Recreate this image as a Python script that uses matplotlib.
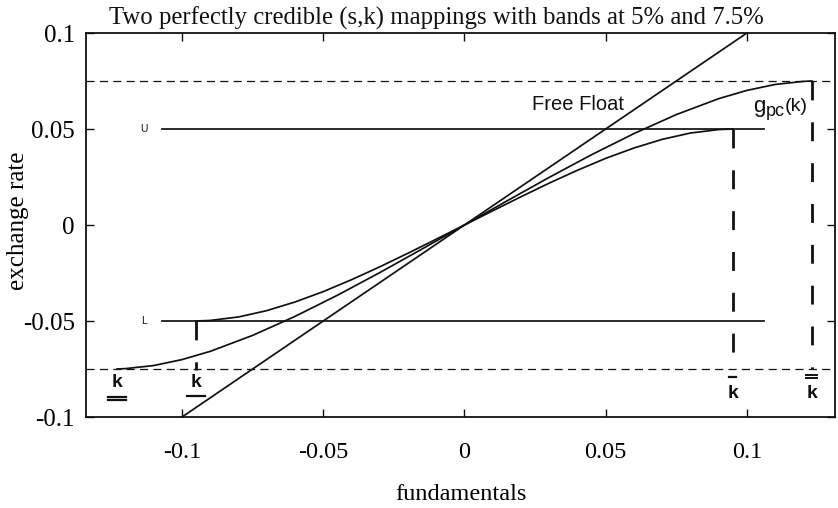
import matplotlib
matplotlib.use("Agg")
import matplotlib.pyplot as plt

# ---------------- data ----------------
k_free = [-0.1, 0.1]
s_free = [-0.1, 0.1]

band_inner = 0.05
band_outer = 0.075
kbar_inner = 0.095
kbar_outer = 0.123
band_line_x = [-0.107, 0.106]

k_band5 = [-0.095, -0.09, -0.08, -0.07, -0.06, -0.05, -0.04, -0.03, -0.02, -0.01, 0.0,
           0.01, 0.02, 0.03, 0.04, 0.05, 0.06, 0.07, 0.08, 0.09, 0.095]
s_band5 = [-0.05, -0.0497, -0.0479, -0.0446, -0.0401, -0.0347, -0.0285, -0.0218, -0.0147, -0.0074, 0.0,
           0.0074, 0.0147, 0.0218, 0.0285, 0.0347, 0.0401, 0.0446, 0.0479, 0.0497, 0.05]

k_band75 = [-0.123, -0.12, -0.11, -0.10, -0.09, -0.075, -0.06, -0.045, -0.03, -0.015, 0.0,
            0.015, 0.03, 0.045, 0.06, 0.075, 0.09, 0.10, 0.11, 0.12, 0.123]
s_band75 = [-0.075, -0.0748, -0.0732, -0.0701, -0.0658, -0.0575, -0.0476, -0.0366, -0.0248, -0.0125, 0.0,
            0.0125, 0.0248, 0.0366, 0.0476, 0.0575, 0.0658, 0.0701, 0.0732, 0.0748, 0.075]

xticks = [-0.1, -0.05, 0, 0.05, 0.1]
xticklabels = ["-0.1", "-0.05", "0", "0.05", "0.1"]
yticks = [-0.1, -0.05, 0, 0.05, 0.1]
yticklabels = ["-0.1", "-0.05", "0", "0.05", "0.1"]

title = "Two perfectly credible (s,k) mappings with bands at 5% and 7.5%"
xlabel = "fundamentals"
ylabel = "exchange rate"

# ---------------- styling ----------------
plt.rcParams["axes.unicode_minus"] = False
serif = "Liberation Serif"
sans = "Liberation Sans"
ink = "#111111"

fig = plt.figure(figsize=(8.38, 5.08), dpi=100)
ax = fig.add_axes([86 / 838, 1 - 417 / 508, 749 / 838, 384 / 508])
ax.set_xlim(-0.134, 0.1312)
ax.set_ylim(-0.1, 0.1)

curve_lw = 1.25
ax.plot(k_free, s_free, color=ink, lw=curve_lw)
ax.plot(k_band5, s_band5, color=ink, lw=curve_lw)
ax.plot(k_band75, s_band75, color=ink, lw=curve_lw)

# inner band U / L lines
ax.plot(band_line_x, [band_inner, band_inner], color=ink, lw=curve_lw)
ax.plot(band_line_x, [-band_inner, -band_inner], color=ink, lw=curve_lw)
ax.text(-0.1135, band_inner, "U", fontsize=7.5, family=sans, ha="center", va="center", color=ink)
ax.text(-0.1135, -band_inner, "L", fontsize=7.5, family=sans, ha="center", va="center", color=ink)

# outer band dashed lines
ax.axhline(band_outer, color=ink, lw=0.9, linestyle=(0, (6.5, 4.2)))
ax.axhline(-band_outer, color=ink, lw=0.9, linestyle=(0, (6.5, 4.2)))

# vertical dashed markers at the band edges
vdash = (0, (6.8, 7.9))
ax.plot([-kbar_inner, -kbar_inner], [-band_inner, -band_outer - 0.0005], color=ink, lw=2.0, linestyle=vdash)
ax.plot([kbar_inner, kbar_inner], [band_inner, -band_outer], color=ink, lw=2.0, linestyle=vdash)
ax.plot([kbar_outer, kbar_outer], [band_outer, -band_outer], color=ink, lw=2.0, linestyle=vdash)

# k labels with bars
klab = dict(fontsize=14, family=sans, fontweight="bold", ha="center", va="center", color=ink)
ax.text(-kbar_outer, -0.0822, "k", **klab)
ax.text(-kbar_inner, -0.0822, "k", **klab)
ax.text(kbar_inner, -0.0877, "k", **klab)
ax.text(kbar_outer, -0.0877, "k", **klab)
bw = 0.0032
ax.plot([-kbar_outer - bw, -kbar_outer + bw], [-0.0895, -0.0895], color=ink, lw=1.6)
ax.plot([-kbar_outer - bw, -kbar_outer + bw], [-0.0910, -0.0910], color=ink, lw=1.6)
ax.plot([-kbar_inner - bw, -kbar_inner + bw], [-0.0890, -0.0890], color=ink, lw=1.6)
ax.plot([kbar_inner - 0.0013, kbar_inner + 0.0013], [-0.0794, -0.0794], color=ink, lw=1.6)
ax.plot([kbar_outer - 0.002, kbar_outer + 0.002], [-0.0781, -0.0781], color=ink, lw=1.4)
ax.plot([kbar_outer - 0.002, kbar_outer + 0.002], [-0.0797, -0.0797], color=ink, lw=1.4)

# curve annotations
ax.text(0.0403, 0.0625, "Free Float", fontsize=14.5, family=sans, ha="center", va="center", color=ink)
ax.text(0.1021, 0.0590, "g", fontsize=16, family=sans, ha="left", va="baseline", color=ink)
ax.text(0.1066, 0.0566, "pc", fontsize=13, family=sans, ha="left", va="baseline", color=ink)
ax.text(0.1134, 0.0592, "(k)", fontsize=14, family=sans, ha="left", va="baseline", color=ink)

# ticks & frame
ax.set_xticks(xticks)
ax.set_xticklabels(xticklabels, fontsize=17.5, family=serif)
ax.set_yticks(yticks)
ax.set_yticklabels(yticklabels, fontsize=18, family=serif)
ax.tick_params(direction="in", length=5.5, width=1.0, top=True, right=True, color=ink)
ax.tick_params(axis="x", pad=18)
ax.tick_params(axis="y", pad=8)
for sp in ax.spines.values():
    sp.set_linewidth(1.3)
    sp.set_color(ink)

ax.set_xlabel(xlabel, fontsize=17.5, family=serif)
ax.xaxis.set_label_coords(0.5, -0.175)
ax.set_ylabel(ylabel, fontsize=18, family=serif)
ax.yaxis.set_label_coords(-0.076, 0.51)

fig.text(436.5 / 838, 1 - 25 / 508, title, fontsize=17.8, family=serif, ha="center", va="baseline", color=ink)

fig.savefig("out.png", dpi=100, facecolor="white")
